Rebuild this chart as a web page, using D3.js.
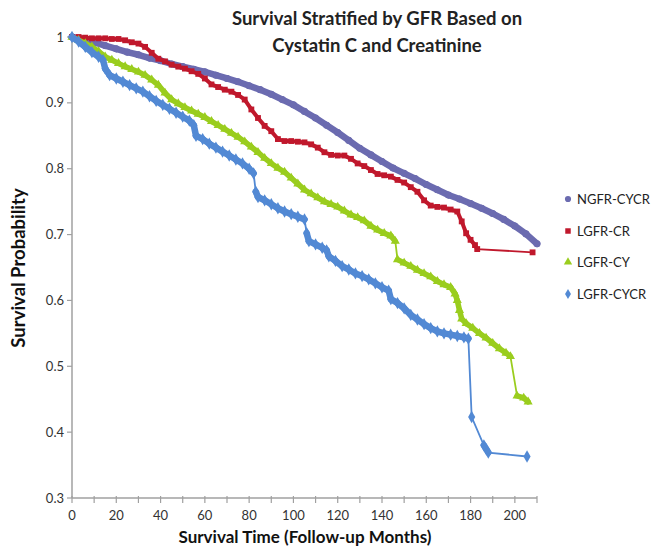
<!DOCTYPE html>
<html>
<head>
<meta charset="utf-8">
<script src="https://cdn.jsdelivr.net/npm/d3@7"></script>
<style>
  body { margin: 0; background: #fff; }
  text { font-family: Lato, "Open Sans", sans-serif; }
</style>
</head>
<body>
<div id="area"></div>
<script>
const seriesNames = ['NGFR-CYCR', 'LGFR-CR', 'LGFR-CY', 'LGFR-CYCR']

const ngfrMonths = [0,5,10,15,20,25,30,35,40,45,50,55,60,65,70,75,80,85,90,95,100,105,110,115,120,125,130,135,140,145,150,155,160,165,170,175,180,185,190,195,200,205,210]
const ngfrSurv = [1,0.997,0.992,0.987,0.982,0.977,0.973,0.968,0.964,0.959,0.955,0.951,0.947,0.942,0.937,0.932,0.926,0.92,0.913,0.905,0.897,0.887,0.877,0.866,0.855,0.843,0.831,0.821,0.811,0.801,0.793,0.785,0.776,0.768,0.76,0.754,0.747,0.74,0.732,0.723,0.713,0.701,0.686]

const crMonths = [0,3,6,9,12,15,18,21,24,27,30,33,36,39,42,45,48,51,54,57,60,63,66,69,72,75,78,81,84,87,90,93,96,99,102,105,108,111,114,117,120,123,126,129,132,135,138,141,144,147,150,153,156,159,162,165,168,171,174,176,178,180,182,183,208]
const crSurv = [1,1,0.999,0.998,0.998,0.998,0.997,0.997,0.995,0.992,0.99,0.985,0.976,0.967,0.963,0.958,0.955,0.952,0.948,0.944,0.937,0.928,0.924,0.92,0.917,0.912,0.905,0.89,0.877,0.865,0.857,0.845,0.842,0.842,0.841,0.84,0.837,0.832,0.825,0.821,0.82,0.82,0.815,0.808,0.804,0.798,0.792,0.79,0.788,0.783,0.779,0.772,0.765,0.752,0.744,0.742,0.741,0.738,0.735,0.72,0.702,0.692,0.684,0.678,0.673]

const cyMonths = [0,3,6,9,12,15,18,21,24,27,30,33,36,39,42,45,48,51,54,57,60,63,66,69,72,75,78,81,84,87,90,93,96,99,102,105,108,111,114,117,120,123,126,129,132,135,138,141,144,146,147,150,153,156,159,162,165,168,171,173,174,175,176,178,181,184,187,190,193,196,198,201,204,206]
const cySurv = [1,0.995,0.99,0.985,0.978,0.97,0.965,0.96,0.955,0.951,0.947,0.942,0.935,0.927,0.915,0.905,0.899,0.893,0.888,0.883,0.878,0.872,0.866,0.86,0.854,0.848,0.841,0.833,0.825,0.816,0.808,0.801,0.795,0.786,0.777,0.768,0.762,0.756,0.75,0.746,0.742,0.736,0.73,0.726,0.721,0.713,0.707,0.702,0.698,0.69,0.662,0.657,0.652,0.646,0.641,0.636,0.629,0.624,0.62,0.61,0.6,0.585,0.572,0.565,0.558,0.55,0.543,0.535,0.527,0.52,0.515,0.455,0.452,0.446]

const cycrMonths = [0,3,6,9,12,14,15,17,20,23,26,29,32,35,38,41,44,47,50,53,55,56,59,62,65,68,71,74,77,80,82,83,84,87,90,93,96,99,102,105,106,107,110,113,115,116,119,122,125,128,131,134,137,140,143,144,147,150,153,156,159,162,165,168,171,174,177,179,180.5,186,188,205.5]
const cycrSurv = [1,0.993,0.985,0.977,0.97,0.965,0.952,0.942,0.937,0.932,0.927,0.922,0.917,0.91,0.903,0.897,0.891,0.885,0.879,0.873,0.866,0.85,0.845,0.838,0.832,0.826,0.82,0.814,0.808,0.8,0.793,0.765,0.757,0.752,0.746,0.74,0.735,0.731,0.727,0.723,0.702,0.69,0.685,0.68,0.676,0.667,0.66,0.652,0.647,0.641,0.637,0.632,0.626,0.62,0.615,0.602,0.596,0.588,0.578,0.571,0.564,0.558,0.553,0.55,0.548,0.546,0.544,0.542,0.423,0.38,0.369,0.363]

const yTicks = [0.3,0.4,0.5,0.6,0.7,0.8,0.9,1]
const xTickLabels = [0,20,40,60,80,100,120,140,160,180,200]

const colors = ['#6b6bb0','#c0182c','#9acd1e','#5289d4']
const symbols = [d3.symbolCircle, d3.symbolSquare, d3.symbolTriangle, d3.symbolDiamond]
const symSizes = [40, 34, 36, 44]
const bandWidths = [6.5, 4, 5.5, 6.5]

const series = [
  {months: ngfrMonths, surv: ngfrSurv},
  {months: crMonths, surv: crSurv},
  {months: cyMonths, surv: cySurv},
  {months: cycrMonths, surv: cycrSurv}
]

const svg = d3.select('#area')
  .append('svg')
  .attr('width', 651)
  .attr('height', 549)

const xScale = d3.scaleLinear().domain([0,210]).range([72,537])
const yScale = d3.scaleLinear().domain([0.3,1]).range([498,37])

// axes
svg.append('line')
  .attr('x1', xScale(0)).attr('x2', xScale(0))
  .attr('y1', yScale(1)).attr('y2', yScale(0.3))
  .attr('stroke', '#a0a0a0').attr('stroke-width', 1.5)
svg.append('line')
  .attr('x1', xScale(0)).attr('x2', xScale(210))
  .attr('y1', yScale(0.3)).attr('y2', yScale(0.3))
  .attr('stroke', '#a0a0a0').attr('stroke-width', 1.5)

svg.selectAll('.ytick')
  .data(yTicks)
  .enter()
  .append('line')
  .attr('x1', xScale(0) - 5).attr('x2', xScale(0))
  .attr('y1', d => yScale(d)).attr('y2', d => yScale(d))
  .attr('stroke', '#a0a0a0').attr('stroke-width', 1.2)

svg.selectAll('.ylab')
  .data(yTicks)
  .enter()
  .append('text')
  .attr('x', xScale(0) - 8)
  .attr('y', d => yScale(d) + 4.5)
  .attr('text-anchor', 'end')
  .attr('font-size', 13)
  .attr('fill', '#333')
  .text(d => d)

svg.selectAll('.xtick')
  .data(d3.range(0, 211, 10))
  .enter()
  .append('line')
  .attr('x1', d => xScale(d)).attr('x2', d => xScale(d))
  .attr('y1', yScale(0.3) - 2).attr('y2', yScale(0.3) + 5)
  .attr('stroke', '#a0a0a0').attr('stroke-width', 1.2)

svg.selectAll('.xlab')
  .data(xTickLabels)
  .enter()
  .append('text')
  .attr('x', d => xScale(d))
  .attr('y', 520)
  .attr('text-anchor', 'middle')
  .attr('font-size', 13)
  .attr('fill', '#333')
  .text(d => d)

// series: thin connecting line, thick band where points are dense, then markers
const line = d3.line()
  .x(d => xScale(d[0]))
  .y(d => yScale(d[1]))

series.forEach((s, i) => {
  const pts = s.months.map((m, j) => [m, s.surv[j]])
  const dense = d3.pairs(pts).filter(p => p[1][0] - p[0][0] <= 5.5 && Math.abs(p[1][1] - p[0][1]) < 0.02)
  svg.append('path')
    .datum(pts)
    .attr('d', line)
    .attr('fill', 'none')
    .attr('stroke', colors[i])
    .attr('stroke-width', 1.8)
  svg.selectAll('.band' + i)
    .data(dense)
    .enter()
    .append('path')
    .attr('d', line)
    .attr('fill', 'none')
    .attr('stroke', colors[i])
    .attr('stroke-width', bandWidths[i])
    .attr('stroke-linecap', 'round')
  svg.selectAll('.mk' + i)
    .data(pts)
    .enter()
    .append('path')
    .attr('transform', d => `translate(${xScale(d[0])},${yScale(d[1])})`)
    .attr('d', d3.symbol().type(symbols[i]).size(symSizes[i]))
    .attr('fill', colors[i])
})

// legend
const legendY = [199, 231, 262, 294]
seriesNames.forEach((name, i) => {
  svg.append('path')
    .attr('transform', `translate(568,${legendY[i]})`)
    .attr('d', d3.symbol().type(symbols[i]).size(30))
    .attr('fill', colors[i])
  svg.append('text')
    .attr('x', 577)
    .attr('y', legendY[i] + 4.5)
    .attr('font-size', 13)
    .attr('fill', '#222')
    .text(name)
})

// titles
svg.append('text')
  .attr('x', 377).attr('y', 25)
  .attr('text-anchor', 'middle')
  .attr('font-size', 18.5).attr('font-weight', 'bold')
  .attr('fill', '#222')
  .text('Survival Stratified by GFR Based on')
svg.append('text')
  .attr('x', 377).attr('y', 52)
  .attr('text-anchor', 'middle')
  .attr('font-size', 18.5).attr('font-weight', 'bold')
  .attr('fill', '#222')
  .text('Cystatin C and Creatinine')

svg.append('text')
  .attr('x', 305).attr('y', 543)
  .attr('text-anchor', 'middle')
  .attr('font-size', 17).attr('font-weight', 'bold')
  .attr('fill', '#111')
  .text('Survival Time (Follow-up Months)')

svg.append('text')
  .attr('transform', 'translate(25,268) rotate(-90)')
  .attr('text-anchor', 'middle')
  .attr('font-size', 18.5).attr('font-weight', 'bold')
  .attr('fill', '#111')
  .text('Survival Probability')
</script>
</body>
</html>
